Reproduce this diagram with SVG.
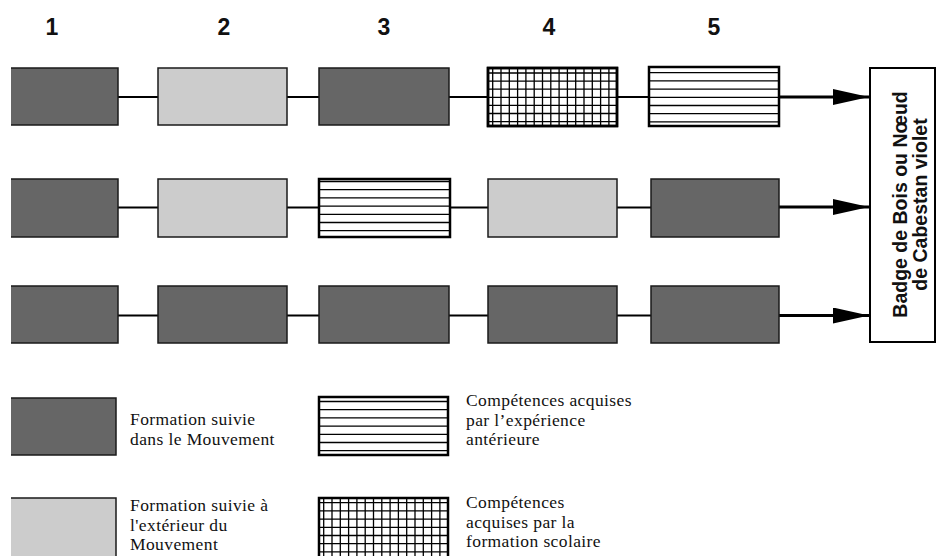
<svg xmlns="http://www.w3.org/2000/svg" width="937" height="556" viewBox="0 0 937 556">
<defs>
<clipPath id="cl"><rect x="11" y="0" width="926" height="556"/></clipPath>
<marker id="ah" markerUnits="userSpaceOnUse" markerWidth="36" markerHeight="16" refX="36" refY="8" orient="auto"><path d="M0,0 L36,8 L0,16 Z" fill="#000"/></marker>
</defs>
<style>
.dk{fill:#666;stroke:#1a1a1a;stroke-width:1.5}
.lt{fill:#ccc;stroke:#1a1a1a;stroke-width:1.5}
.pb{fill:#fff;stroke:#000;stroke-width:2.5}
.pl{fill:none;stroke:#000;stroke-width:1.3}
.cn{fill:none;stroke:#000;stroke-width:2}
.ar{fill:none;stroke:#000;stroke-width:3;marker-end:url(#ah)}
.num{font-family:"Liberation Sans",Arial,sans-serif;font-weight:bold;font-size:23px;fill:#111;text-anchor:middle}
.lg{font-family:"Liberation Serif","Times New Roman",serif;font-size:17.5px;letter-spacing:0.4px;fill:#111}
.bt{font-family:"Liberation Sans",Arial,sans-serif;font-weight:bold;font-size:19.5px;fill:#111;text-anchor:middle}
</style>
<rect width="937" height="556" fill="#fff"/>
<g id="headers">
<text class="num" x="52" y="35">1</text>
<text class="num" x="224" y="35">2</text>
<text class="num" x="384" y="35">3</text>
<text class="num" x="549" y="35">4</text>
<text class="num" x="714" y="35">5</text>
</g>
<g id="connectors">
<path class="cn" d="M118,97H158M287,97H319M449,97H488M617,97H649"/>
<path class="ar" d="M779,97H869"/>
<path class="cn" d="M118,207.5H158M287,207.5H319M450,207.5H488M617,207.5H651"/>
<path class="ar" d="M779,207H869"/>
<path class="cn" d="M118,315.5H158M287,315.5H319M449,315.5H488M617,315.5H651"/>
<path class="ar" d="M779,315.5H869"/>
</g>
<g id="r1c1" clip-path="url(#cl)"><rect class="dk" x="8" y="68" width="110" height="57"/></g>
<g id="r1c2"><rect class="lt" x="158" y="68" width="129" height="57"/></g>
<g id="r1c3"><rect class="dk" x="319" y="68" width="130" height="57"/></g>
<g id="r1c4"><rect class="pb" x="488" y="68" width="129" height="58"/>
<path class="pl" d="M492.7,68V126M501,68V126M509.3,68V126M517.6,68V126M525.9,68V126M534.2,68V126M542.5,68V126M550.8,68V126M559.1,68V126M567.4,68V126M575.7,68V126M584,68V126M592.3,68V126M600.6,68V126M608.9,68V126M488,73H617M488,81.1H617M488,89.2H617M488,97.3H617M488,105.4H617M488,113.5H617M488,121.6H617"/>
<rect x="488" y="68" width="129" height="58" fill="none" stroke="#000" stroke-width="2.5"/></g>
<g id="r1c5"><rect class="pb" x="649" y="67" width="130" height="59"/>
<path class="pl" d="M649,72.7H779M649,80.9H779M649,89.1H779M649,97.3H779M649,105.5H779M649,113.7H779M649,121.9H779"/></g>
<g id="r2c1" clip-path="url(#cl)"><rect class="dk" x="8" y="179" width="110" height="58"/></g>
<g id="r2c2"><rect class="lt" x="158" y="179" width="129" height="58"/></g>
<g id="r2c3"><rect class="pb" x="319" y="179" width="131" height="58"/>
<path class="pl" d="M319,181.5H450M319,189.7H450M319,197.9H450M319,206.1H450M319,214.3H450M319,222.5H450M319,230.7H450"/></g>
<g id="r2c4"><rect class="lt" x="488" y="179" width="129" height="58"/></g>
<g id="r2c5"><rect class="dk" x="651" y="179" width="128" height="58"/></g>
<g id="r3c1" clip-path="url(#cl)"><rect class="dk" x="8" y="286" width="110" height="57"/></g>
<g id="r3c2"><rect class="dk" x="158" y="286" width="129" height="57"/></g>
<g id="r3c3"><rect class="dk" x="319" y="286" width="130" height="57"/></g>
<g id="r3c4"><rect class="dk" x="488" y="286" width="129" height="57"/></g>
<g id="r3c5"><rect class="dk" x="651" y="286" width="128" height="57"/></g>
<g id="badge"><rect x="870" y="68" width="65" height="274" fill="#fff" stroke="#000" stroke-width="2"/>
<text class="bt" transform="translate(906.5,204.5) rotate(-90)" x="0" y="0">Badge de Bois ou Nœud</text>
<text class="bt" transform="translate(927,204.5) rotate(-90)" x="0" y="0">de Cabestan violet</text>
</g>
<g id="legend-dark"><g clip-path="url(#cl)"><rect class="dk" x="8" y="398" width="108" height="57"/></g>
<text class="lg" x="130" y="425">Formation suivie</text>
<text class="lg" x="130" y="444.5">dans le Mouvement</text></g>
<g id="legend-light"><g clip-path="url(#cl)"><rect class="lt" x="8" y="498" width="108" height="64"/></g>
<text class="lg" x="130" y="511">Formation suivie à</text>
<text class="lg" x="130" y="530.5">l'extérieur du</text>
<text class="lg" x="130" y="550">Mouvement</text></g>
<g id="legend-lines"><rect class="pb" x="319" y="397" width="129" height="58"/>
<path class="pl" d="M319,401.5H448M319,409.7H448M319,417.9H448M319,426.1H448M319,434.3H448M319,442.5H448M319,450.7H448"/>
<text class="lg" x="466" y="406">Compétences acquises</text>
<text class="lg" x="466" y="425.5">par l’expérience</text>
<text class="lg" x="466" y="445">antérieure</text></g>
<g id="legend-grid"><rect class="pb" x="319" y="498" width="129" height="64"/>
<path class="pl" d="M323.7,498V562M332,498V562M340.3,498V562M348.6,498V562M356.9,498V562M365.2,498V562M373.5,498V562M381.8,498V562M390.1,498V562M398.4,498V562M406.7,498V562M415,498V562M423.3,498V562M431.6,498V562M439.9,498V562M319,502.7H448M319,510.9H448M319,519.1H448M319,527.3H448M319,535.5H448M319,543.7H448M319,551.9H448"/>
<text class="lg" x="466" y="508">Compétences</text>
<text class="lg" x="466" y="527.5">acquises par la</text>
<text class="lg" x="466" y="547">formation scolaire</text></g>
</svg>
